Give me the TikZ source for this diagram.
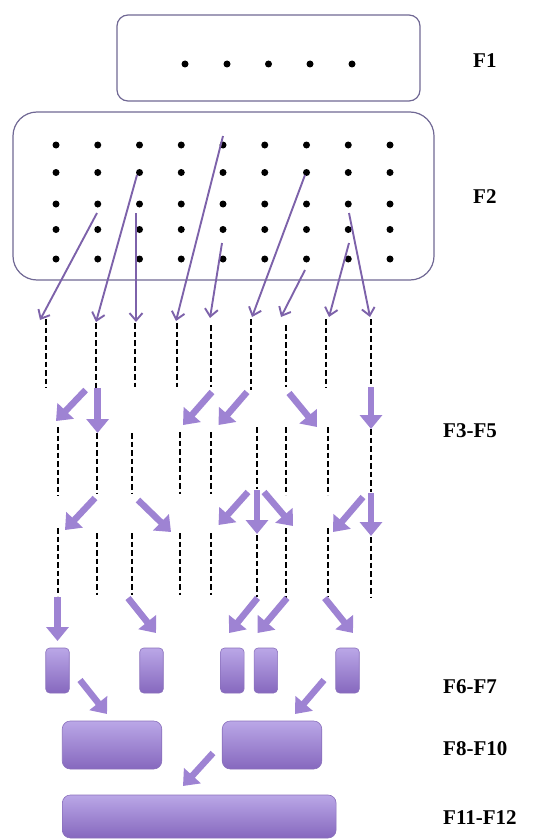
\documentclass[tikz,border=0pt]{standalone}
\usepackage{fontspec}
\setmainfont{Liberation Serif}
\usetikzlibrary{arrows.meta}
\definecolor{frameline}{RGB}{112,104,148}
\definecolor{thinpurple}{RGB}{125,98,170}
\definecolor{fatpurple}{RGB}{158,131,211}
\definecolor{boxtop}{RGB}{186,167,231}
\definecolor{boxbot}{RGB}{134,104,190}
\definecolor{boxedge}{RGB}{138,112,188}
\tikzset{
  frame/.style={draw=frameline, line width=1.2pt},
  dot/.style={circle, fill=black, inner sep=0pt, minimum size=7pt},
  thinarrow/.style={draw=thinpurple, line width=1.9pt, -{Straight Barb[length=7.5pt,width=13pt]}},
  fatarrow/.style={draw=fatpurple, line width=6.5pt, -{Triangle[length=14pt,width=22pt]}},
  dashline/.style={draw=black, line width=2.3pt, dash pattern=on 5.5pt off 3pt},
  pbox/.style={draw=boxedge, line width=0.6pt, top color=boxtop, bottom color=boxbot, inner sep=0pt},
  lab/.style={font=\bfseries\fontsize{21}{21}\selectfont, anchor=base west, inner sep=0pt}
}
\begin{document}
\begin{tikzpicture}[x=1pt,y=-1pt]
\useasboundingbox (0,0) rectangle (537,840);
% frames
\draw[frame, rounded corners=11pt] (117,15) rectangle (420,101);
\draw[frame, rounded corners=24pt] (13,112) rectangle (434,280);
% F1 dots
\foreach \i/\xx in {1/185,2/227,3/268.5,4/310,5/352}
  \node[dot] (f\i) at (\xx,64) {};
% F2 dots
\foreach \i in {1,...,9}
  \foreach \j/\yy in {1/145,2/172.5,3/204,4/229.5,5/259}
    \node[dot] (d\i\j) at ({56+41.75*(\i-1)},\yy) {};
% labels
\node[lab] (l1) at (473,68) {F1};
\node[lab] (l2) at (473,203) {F2};
\node[lab] (l3) at (443,437) {F3-F5};
\node[lab] (l4) at (443,693) {F6-F7};
\node[lab] (l5) at (443,755) {F8-F10};
\node[lab] (l6) at (443,824) {F11-F12};
% dashed line rows
\foreach \k/\xx/\ya/\yb in {1/46/319/388,2/96/323/388,3/135/323/387,4/177/323/387,5/211/325/387,6/251/319/390,7/286/325/387,8/326/319/388,9/371/319/387}{
  \coordinate (ra\k) at (\xx,\ya); \coordinate (rb\k) at (\xx,\yb);
  \draw[dashline] (ra\k) -- (rb\k);}
\foreach \k/\xx/\ya/\yb in {1/58/427/496,2/97/433/494,3/132/433/494,4/180/432/494,5/211/432/494,6/257/427/489,7/286/427/495,8/328/427/495,9/371/429/492}{
  \coordinate (sa\k) at (\xx,\ya); \coordinate (sb\k) at (\xx,\yb);
  \draw[dashline] (sa\k) -- (sb\k);}
\foreach \k/\xx/\ya/\yb in {1/58/528/596,2/97/533/595,3/132/533/595,4/180/533/595,5/211/533/595,6/257/535/597,7/286/528/598,8/328/528/597,9/371/537/597}{
  \coordinate (ua\k) at (\xx,\ya); \coordinate (ub\k) at (\xx,\yb);
  \draw[dashline] (ua\k) -- (ub\k);}
% thin arrows from F2
\foreach \k/\xa/\ya/\xb/\yb in {1/97/213/40/320,2/137/175/96/322,3/136/213/136/322,4/223/136/176/321,5/222/243/210/318,6/305/175/252/317,7/305/270/281/317,8/349/243/329/317,9/349/213/370/317}{
  \coordinate (ts\k) at (\xa,\ya); \coordinate (te\k) at (\xb,\yb);
  \draw[thinarrow] (ts\k) -- (te\k);}
% fat arrows
\foreach \k/\xa/\ya/\xb/\yb in {
  b1/85.6/390/56/421, b2/97.6/388/97.6/433, b3/212/392/183/425, b4/247/392/218.5/425, b5/289/393/317/427, b6/371/387/371/429,
  c1/95/498/65/530, c2/138/500/171/532, c3/248/492/218.5/525, c4/257/490/257/534, c5/264/492/293/526, c6/363/497/333/532, c7/371/493/371/536,
  d1/57.5/597/57.5/641, d2/128/598/156/633, d3/257.5/598/229/633, d4/287/598/257.5/633, d5/324.7/598/353/633,
  e1/80/680/107/714, e2/324/680/295/714, e3/213/753/183/786}{
  \coordinate (fs\k) at (\xa,\ya); \coordinate (fe\k) at (\xb,\yb);
  \draw[fatarrow] (fs\k) -- (fe\k);}
% small boxes F6-F7
\foreach \k/\xx in {1/57.5,2/151.5,3/232.3,4/265.8,5/347.5}
  \node[pbox, rounded corners=4pt, minimum width=23.5pt, minimum height=45pt] (s\k) at (\xx,670.5) {};
% F8-F10 boxes
\node[pbox, rounded corners=8pt, minimum width=99.5pt, minimum height=48pt] (m1) at (112,745) {};
\node[pbox, rounded corners=8pt, minimum width=99.5pt, minimum height=48pt] (m2) at (272,745) {};
% F11-F12 box
\node[pbox, rounded corners=8pt, minimum width=273.7pt, minimum height=43pt] (big) at (199.2,816.5) {};
\end{tikzpicture}
\end{document}
